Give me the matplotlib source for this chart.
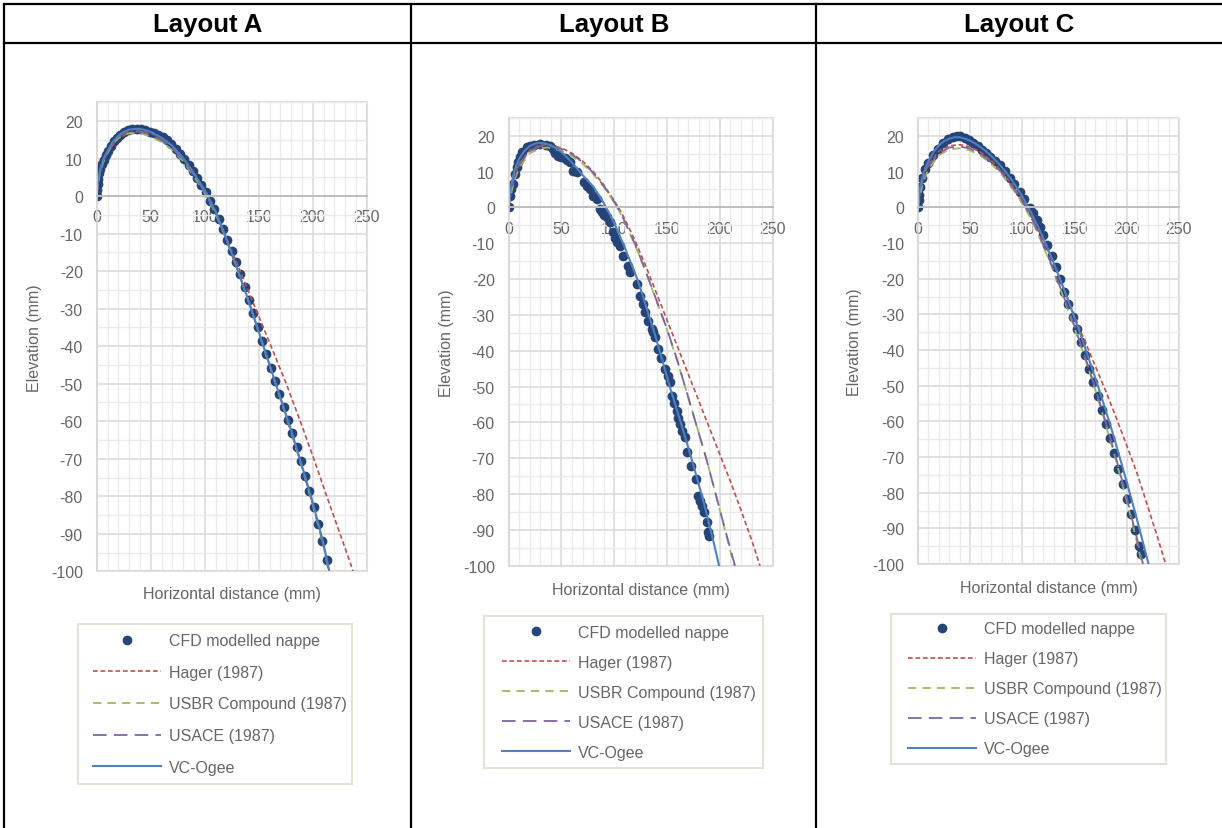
import matplotlib
matplotlib.use("Agg")
import matplotlib.pyplot as plt
from matplotlib.ticker import MultipleLocator
from matplotlib.patches import Rectangle

plt.rcParams['font.family'] = ['Liberation Sans', 'DejaVu Sans']
plt.rcParams['lines.scale_dashes'] = False
plt.rcParams['axes.unicode_minus'] = False

W, H = 1222, 829

# ---------------- data (mm) ----------------
# Layout A
a_cfd_x = [0, 0.3, 0.8, 1.5, 2.5, 3.5, 5, 6.5, 8.5, 10.5, 13, 16, 19, 22, 25.5, 29, 33, 37, 41, 45,
           49, 53, 57, 61, 65, 69, 73, 77, 81, 85, 89, 93, 97, 101, 105, 109, 113, 117, 121, 125,
           129, 133, 137, 141, 145, 149, 153, 157, 161, 165, 169, 173, 177, 181, 185, 189, 193, 197, 201, 205,
           209, 213]
a_cfd_y = [0, 1.5, 3.3, 4.6, 6.1, 7.2, 8.5, 9.7, 11, 12.1, 13.3, 14.6, 15.6, 16.4, 17, 17.5, 17.8, 17.9, 17.8, 17.5,
           17.1, 16.7, 16.3, 15.7, 14.9, 13.8, 12.6, 11.3, 9.8, 8.2, 6.6, 4.8, 2.9, 1.0, -1.4, -3.5, -6.0, -8.8, -11.7, -14.6,
           -17.6, -20.8, -24.1, -27.6, -31.2, -34.8, -38.5, -42.1, -45.7, -49.3, -52.8, -56.3, -59.7, -63.2, -66.9, -70.7, -74.6, -78.6, -82.8, -87.3,
           -92.0, -97.0]
a_hager_x = [0, 2, 5, 10, 20, 30, 40, 50, 60, 70, 80, 90, 103, 116, 130, 145, 160, 175.5, 188.5, 201, 213, 225.3, 237.5]
a_hager_y = [0, 5, 8.5, 11.8, 15.4, 16.9, 17.3, 16.8, 15.5, 13.3, 10.3, 6.3, 0, -8.5, -18, -28.5, -39, -50, -60, -70, -80, -90, -100]
a_usbr_x = [0, 1, 2, 4, 7, 10, 15, 20, 25, 30, 35, 40, 45, 50, 60, 70, 80, 90, 100, 110, 120, 130, 140, 150, 160, 170, 180, 190, 200, 210, 214.8]
a_usbr_y = [0, 2.8, 4.6, 7.1, 9.7, 11.5, 13.9, 15.5, 16.3, 16.7, 16.8, 16.7, 16.4, 15.9, 14.4, 12.3, 9.3, 5.3, 0.8, -4.6, -11.6, -19.4, -27.6, -36.3, -45.2, -54.0, -62.9, -72.4, -82.3, -93.4, -100]
a_usace_x = [0, 1, 2, 4, 7, 10, 15, 20, 25, 30, 35, 40, 45, 50, 60, 70, 80, 90, 100, 110, 120, 130, 140, 150, 160, 170, 180, 190, 200, 210, 215]
a_usace_y = [0, 3.2, 5.0, 7.5, 10.1, 11.9, 14.3, 15.9, 16.8, 17.2, 17.3, 17.2, 16.9, 16.4, 14.9, 12.7, 9.7, 5.6, 1.1, -4.3, -11.4, -19.3, -27.5, -36.2, -45.0, -53.8, -62.7, -72.1, -82.0, -93.1, -100]
a_vc_x = [0, 1, 2, 4, 7, 10, 15, 20, 25, 30, 35, 40, 45, 50, 60, 70, 80, 90, 100, 110, 120, 130, 140, 150, 160, 170, 180, 190, 200, 210, 215.4]
a_vc_y = [0, 3.8, 5.5, 7.9, 10.4, 12.1, 14.5, 16.1, 17.1, 17.7, 17.9, 17.9, 17.6, 17.1, 15.6, 13.4, 10.2, 6.0, 1.6, -4.0, -11.3, -19.2, -27.4, -36.1, -44.9, -53.6, -62.4, -71.8, -81.6, -92.6, -100]

# Layout B
b_cfd_x = [0, 1.2, 2.5, 3.8, 6, 7.6, 9, 10.7, 13, 17, 20, 24, 29.6, 35, 39, 42, 44, 47, 50, 53,
           55.5, 58, 61.2, 64.4, 71, 73.9, 77, 80.2, 83.3, 86.5, 88, 90.5, 92.8, 96, 99, 100.5, 102.3, 105.4, 108.6, 113.3,
           114.9, 121.2, 124.4, 127.5, 129.1, 132.3, 135.4, 136.9, 138.6, 141.7, 144.5, 148, 150.5, 152.7, 154.3, 157, 159, 160.5, 162.2, 164.5,
           167, 168.6, 172.3, 177, 179.6, 181, 182.7, 185, 187.5, 189, 189.3]
b_cfd_y = [0, 3.3, 5, 6.5, 9.3, 11.3, 12.8, 14, 15.5, 16.9, 17.2, 17.5, 17.7, 17.5, 17.2, 16.2, 15.3, 14.4, 14, 13.8,
           13.3, 12.6, 10.2, 9.8, 7, 6, 5.1, 3.3, 2.3, -0.5, -1.4, -2, -2.8, -4, -7, -8.5, -9.8, -10.7, -13.5, -16.3,
           -18.1, -21.4, -24.7, -27, -29.3, -31.6, -34, -34.9, -36.3, -39.5, -41.9, -45.1, -47, -48.8, -52.6, -54.5, -56.7, -58.7, -60.5, -62.5,
           -64.2, -68.4, -72.1, -75.8, -80.5, -82, -83.3, -85.1, -87.7, -90.5, -91.8]
b_hager_x = [0, 2, 5, 10, 20, 30, 37, 50, 60, 70, 80, 90, 100, 104, 110, 120, 130, 140, 150, 160, 170, 180, 190, 200, 210, 220, 230, 238]
b_hager_y = [0, 4.5, 8.5, 12.2, 16, 17.4, 17.5, 16.6, 15.1, 12.9, 10, 6.3, 1.8, 0, -3.3, -9.5, -16.5, -24, -31.5, -39, -46.5, -54, -61.5, -69, -76.5, -84.5, -92.8, -100]
b_usbr_x = [0, 2, 5, 10, 20, 30, 37, 50, 60, 70, 80, 90, 100, 104, 110, 120, 130, 140, 150, 160, 167, 177, 187, 196, 205, 213.5]
b_usbr_y = [0, 3.5, 7.2, 11.2, 15.1, 16.5, 16.7, 15.8, 14.3, 12.2, 9.3, 5.7, 1.3, -0.7, -4.2, -10.7, -18.2, -26.2, -34.2, -43.2, -50, -60, -70, -80, -90.3, -100]
b_usace_x = [0, 2, 5, 10, 20, 30, 37, 50, 60, 70, 80, 90, 100, 104, 110, 120, 130, 140, 150, 160, 167, 177, 187, 196, 205, 214.3]
b_usace_y = [0, 4, 8, 12, 15.8, 17.1, 17.3, 16.3, 14.8, 12.6, 9.7, 6, 1.6, -0.5, -4, -10.5, -18, -26, -34, -43, -50, -60, -70, -80, -90, -100]
b_vc_x = [0, 1, 2, 4, 7, 10, 15, 20, 25, 30, 35, 40, 45, 50, 55, 60, 65, 70, 75, 80,
          85, 90, 95, 100, 105, 110, 116, 122, 127, 132, 137.5, 142.5, 147.5, 152.5, 157.7, 162.9, 168, 173, 177.8, 182.5,
          187, 191.2, 195.3, 199.2]
b_vc_y = [0, 3.2, 5.5, 8.6, 11.6, 13.6, 15.8, 17.1, 17.8, 18.0, 17.8, 17.3, 16.5, 15.4, 14.0, 12.5, 10.8, 9.0, 7.4, 5.8,
          3.6, 1.2, -1.5, -4.5, -7.8, -11.3, -15.7, -20.2, -24.7, -29.5, -34.5, -39.6, -44.8, -50, -55, -60, -65, -70, -75, -80,
          -85, -90, -95, -100]

# Layout C
c_cfd_x = [0, 0.5, 1, 2, 4, 7, 10, 14.7, 19, 24.2, 29, 33.8, 37, 40.2, 45, 49, 53, 57, 61, 65,
           69, 74, 78.5, 83, 88.1, 92, 97.7, 102, 107.3, 110, 113.7, 117, 120, 124, 128, 132, 136, 140, 144, 148,
           152, 156, 160, 164, 168, 172, 176, 180, 184, 188, 192, 196, 200, 204, 208, 212, 214]
c_cfd_y = [0, 2, 3.5, 5.8, 8.2, 10.8, 12.6, 14.7, 16.5, 18, 19.1, 19.8, 20, 19.9, 19.5, 18.8, 18, 17.1, 16.2, 15.2,
           14.2, 12.9, 11.8, 10.2, 8.2, 6.6, 4.2, 2.3, -0.2, -1.6, -3.6, -5.6, -7.6, -10.5, -13.6, -16.8, -20.2, -23.6, -27.1, -30.6,
           -34.2, -37.8, -41.5, -45.2, -49, -52.8, -56.7, -60.7, -64.8, -69.0, -73.3, -77.5, -81.7, -86.0, -90.4, -95.0, -97.3]
c_hager_x = [0, 2, 5, 10, 20, 30, 40, 50, 60, 70, 80, 90, 100, 106, 110, 120, 130, 140, 150, 155, 160, 170, 180, 190, 200, 210, 220, 230, 237.2]
c_hager_y = [0, 4.8, 8.6, 12, 15.8, 17.3, 17.6, 17, 15.5, 13.2, 10.2, 6.4, 2, -1, -3.2, -9.2, -15.7, -23.0, -30.5, -34.1, -37.6, -44.6, -51.6, -59.1, -66.8, -74.7, -83.8, -93.0, -100]
c_usbr_x = [0, 2, 5, 10, 20, 30, 40, 50, 60, 70, 80, 90, 100, 105, 110, 115, 120, 125, 130, 135, 140, 145, 150, 160, 170, 180, 190, 200, 210, 214.5]
c_usbr_y = [0, 3.6, 7.2, 10.8, 14.6, 16.3, 16.6, 16.0, 14.5, 12.3, 9.3, 5.5, 1.1, -1.4, -4.3, -7.5, -10.9, -14.4, -18.1, -21.9, -25.8, -29.8, -33.9, -42.3, -51.3, -61.0, -71.3, -82.3, -94.2, -100]
c_usace_x = [0, 2, 5, 10, 20, 30, 40, 50, 60, 70, 80, 90, 100, 105, 110, 115, 120, 125, 130, 135, 140, 145, 150, 160, 170, 180, 190, 200, 210, 215.5]
c_usace_y = [0, 4.5, 8.2, 11.6, 15.2, 16.8, 17.1, 16.5, 15.0, 12.8, 9.8, 6.0, 1.6, -0.9, -3.8, -7.0, -10.4, -13.9, -17.6, -21.4, -25.3, -29.3, -33.4, -41.8, -50.8, -60.4, -70.6, -81.5, -93.2, -100]
c_vc_x = [0, 1, 2, 4, 7, 10, 15, 20, 25, 30, 35, 40, 45, 50, 55, 60, 65, 70, 75, 80,
          85, 90, 95, 100, 105, 110, 115, 120, 125, 130, 135, 140, 145, 150, 155, 160, 165, 170, 175, 180,
          185, 190, 195, 200, 205, 210, 215, 220.8]
c_vc_y = [0, 3.6, 5.6, 8.3, 11, 13, 15.6, 17.4, 18.6, 19.3, 19.7, 19.7, 19.3, 18.7, 17.9, 16.9, 15.8, 14.5, 13.0, 11.4,
          9.6, 7.6, 5.4, 3.0, 0.4, -2.4, -5.4, -8.6, -12.0, -15.6, -19.3, -23.1, -27.0, -31.0, -35.1, -39.3, -43.6, -48.0, -52.5, -57.1,
          -61.8, -66.8, -71.9, -77.1, -82.4, -87.8, -93.4, -100]

labels = ["CFD modelled nappe", "Hager (1987)", "USBR Compound (1987)", "USACE (1987)", "VC-Ogee"]

# ---------------- styling ----------------
TXT = '#666666'
BEIGE = '#E4E1D6'
FS = 11.5

fig = plt.figure(figsize=(W / 100, H / 100), dpi=100)

# full-figure overlay in pixel units for the table frame and loose text
tab = fig.add_axes([0, 0, 1, 1], zorder=0)
tab.set_xlim(0, W)
tab.set_ylim(H, 0)
tab.axis('off')

for x0, y0, x1, y1 in [(4, 5, 1222, 5), (4, 44, 1222, 44), (4, 5, 4, 829),
                       (411, 5, 411, 829), (816, 5, 816, 829)]:
    tab.plot([x0, x1], [y0, y1], color='black', lw=1.6, solid_capstyle='projecting')

for cx, title in [(208, "Layout A"), (614, "Layout B"), (1019, "Layout C")]:
    tab.text(cx, 25, title, ha='center', va='center', fontsize=18.5, fontweight='bold', color='black')


def px_rect(x0, y0, x1, y1):
    return [x0 / W, 1 - y1 / H, (x1 - x0) / W, (y1 - y0) / H]


def draw_layout(rect, cfd, hager, usbr, usace, vc):
    ax = fig.add_axes(px_rect(*rect), zorder=1)
    ax.set_xlim(0, 250)
    ax.set_ylim(-100, 25)
    ax.set_facecolor('none')
    ax.set_axisbelow(True)
    ax.xaxis.set_major_locator(MultipleLocator(50))
    ax.xaxis.set_minor_locator(MultipleLocator(10))
    ax.yaxis.set_major_locator(MultipleLocator(10))
    ax.yaxis.set_minor_locator(MultipleLocator(5))
    ax.grid(which='minor', color='#EBEBEB', lw=1.0)
    ax.grid(which='major', color='#D9D9D9', lw=1.1)
    for s in ['top', 'right']:
        ax.spines[s].set_visible(False)
    ax.spines['left'].set_color('#D9D9D9')
    ax.spines['left'].set_linewidth(1.1)
    ax.spines['bottom'].set_position(('data', 0))
    ax.spines['bottom'].set_color('#BFBFBF')
    ax.spines['bottom'].set_linewidth(1.4)
    ax.add_patch(Rectangle((0, 0), 1, 1, transform=ax.transAxes, fill=False,
                           ec=BEIGE, lw=1.5, clip_on=False, zorder=0.5))
    ax.tick_params(which='both', length=0, labelsize=FS, labelcolor=TXT)
    ax.tick_params(axis='x', pad=9.5)
    ax.tick_params(axis='y', pad=10)

    h = []
    h += ax.plot(cfd[0], cfd[1], 'o', ms=6.0, color='#264478', mec='#264478', label=labels[0])
    h += ax.plot(hager[0], hager[1], color='#C0504D', lw=1.2, dashes=(3.4, 2.0), label=labels[1])
    h += ax.plot(usbr[0], usbr[1], color='#9BBB59', lw=1.3, dashes=(6.0, 4.4), label=labels[2])
    h += ax.plot(usace[0], usace[1], color='#8064A2', lw=1.3, dashes=(9.8, 5.2), label=labels[3])
    h += ax.plot(vc[0], vc[1], color='#4F81BD', lw=1.5, label=labels[4])
    return ax, h


charts = [
    dict(rect=(96.7, 103.3, 366.7, 572.3), ylab=(35, 338), xlab=595,
         box=(78, 625, 274, 160), hand=(93, 705), pitch=31.65,
         data=((a_cfd_x, a_cfd_y), (a_hager_x, a_hager_y), (a_usbr_x, a_usbr_y),
               (a_usace_x, a_usace_y), (a_vc_x, a_vc_y))),
    dict(rect=(508.7, 118.8, 772.7, 566.7), ylab=(447, 343), xlab=590,
         box=(484, 617, 279, 152), hand=(502, 693.3), pitch=30.0,
         data=((b_cfd_x, b_cfd_y), (b_hager_x, b_hager_y), (b_usbr_x, b_usbr_y),
               (b_usace_x, b_usace_y), (b_vc_x, b_vc_y))),
    dict(rect=(918, 119.3, 1179, 565), ylab=(855, 342), xlab=588,
         box=(891, 615, 275, 150), hand=(908, 690), pitch=30.0,
         data=((c_cfd_x, c_cfd_y), (c_hager_x, c_hager_y), (c_usbr_x, c_usbr_y),
               (c_usace_x, c_usace_y), (c_vc_x, c_vc_y))),
]

fs_px = FS * 100 / 72
row_h = 15.0  # rendered height of one legend row, px
for c in charts:
    ax, handles = draw_layout(c['rect'], *c['data'])
    x0, y0, x1, y1 = c['rect']
    tab.text(c['ylab'][0], c['ylab'][1], "Elevation (mm)", rotation=90, ha='center', va='center',
             fontsize=FS, color=TXT)
    tab.text((x0 + x1) / 2, c['xlab'], "Horizontal distance (mm)", ha='center', va='center',
             fontsize=FS, color=TXT)
    bx, by, bw, bh = c['box']
    tab.add_patch(Rectangle((bx, by), bw, bh, fill=False, ec=BEIGE, lw=1.5))
    hx, hy = c['hand']
    ax.legend(handles, labels, loc='center left', bbox_to_anchor=(hx / W, 1 - hy / H),
              bbox_transform=fig.transFigure, frameon=False, borderpad=0, borderaxespad=0,
              handlelength=68 / fs_px, handletextpad=8 / fs_px,
              labelspacing=(c['pitch'] - row_h) / fs_px, fontsize=FS, labelcolor=TXT, numpoints=1)

fig.savefig("out.png", dpi=100)
